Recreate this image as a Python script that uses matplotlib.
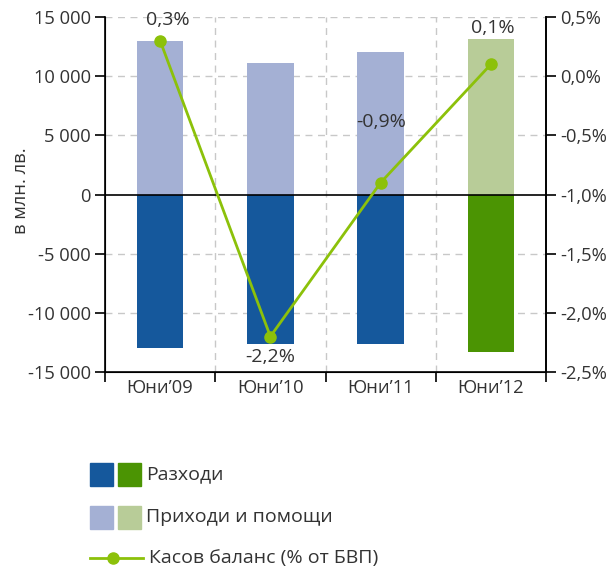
import matplotlib
matplotlib.use("Agg")
import matplotlib.pyplot as plt
from matplotlib.patches import Rectangle
from matplotlib.lines import Line2D
import numpy as np

plt.rcParams['font.family'] = ['Open Sans', 'DejaVu Sans']

categories = ["Юни’09", "Юни’10", "Юни’11", "Юни’12"]
revenues = [12950, 11150, 12000, 13100]        # Приходи и помощи, млн. лв.
expenditures = [-12930, -12600, -12600, -13270]  # Разходи, млн. лв.
balance_pct = [0.3, -2.2, -0.9, 0.1]            # Касов баланс, % от БВП
balance_labels = ["0,3%", "-2,2%", "-0,9%", "0,1%"]
left_ticks = [-15000, -10000, -5000, 0, 5000, 10000, 15000]
right_ticks = [-2.5, -2.0, -1.5, -1.0, -0.5, 0.0, 0.5]

dark_blue = "#15589c"
light_blue = "#a4b0d4"
dark_green = "#4b9403"
light_green = "#b8cc98"
line_green = "#8cc10a"
text_col = "#333333"
grid_col = "#c8c8c8"
fs_tick = 13.2
fs_text = 14

exp_colors = [dark_blue, dark_blue, dark_blue, dark_green]
rev_colors = [light_blue, light_blue, light_blue, light_green]

fig = plt.figure(figsize=(6.15, 5.71), dpi=100)
W, H = 615, 571
ax = fig.add_axes([105 / W, 1 - 372 / H, 441 / W, 355 / H])

x = np.arange(len(categories))
bw = 0.42
ax.bar(x, revenues, width=bw, color=rev_colors, zorder=2)
ax.bar(x, expenditures, width=bw, color=exp_colors, zorder=2)
ax.set_xlim(-0.5, len(categories) - 0.5)
ax.set_ylim(-15000, 15000)
ax.set_yticks(left_ticks)
ax.set_yticklabels([f"{v:,}".replace(",", " ") for v in left_ticks])
ax.axhline(0, color="black", lw=1.2, zorder=3)

# horizontal dashed grid
for v in left_ticks[1:]:
    if v != 0:
        ax.axhline(v, color=grid_col, lw=1, ls=(0, (5, 4)), zorder=1)
# vertical dashed separators between categories
for b in x[:-1] + 0.5:
    ax.axvline(b, color=grid_col, lw=1, ls=(0, (5, 4)), zorder=1)

ax.set_xticks(x)
ax.set_xticklabels(categories)
ax.set_xticks(np.arange(-0.5, len(categories)), minor=True)
ax.tick_params(axis="x", which="major", length=0, pad=5, labelsize=fs_tick, labelcolor=text_col)
ax.tick_params(axis="x", which="minor", length=7, width=1.2, direction="out")
ax.tick_params(axis="y", length=7, width=1.2, direction="out", labelsize=fs_tick,
               labelcolor=text_col, pad=3)
ax.spines["top"].set_visible(False)
for s in ("left", "right", "bottom"):
    ax.spines[s].set_linewidth(1.2)
ax.set_ylabel("в млн. лв.", fontsize=fs_tick, color=text_col)
ax.yaxis.set_label_coords(-0.17, 0.512)

ax2 = ax.twinx()
ax2.set_ylim(-2.5, 0.5)
ax2.set_yticks(right_ticks)
ax2.set_yticklabels([f"{v:.1f}%".replace(".", ",") for v in right_ticks])
ax2.tick_params(axis="y", length=7, width=1.2, direction="out", labelsize=fs_tick,
                labelcolor=text_col, pad=3)
ax2.spines["top"].set_visible(False)
ax2.spines["right"].set_linewidth(1.2)
ax2.plot(x, balance_pct, color=line_green, lw=2, marker="o", ms=8, zorder=4)

# label offsets from each point, in pixels (right, up)
offsets_px = [(8, 21), (0, -20), (1, 61), (2, 36)]
for xi, yi, lab, (dx, dy) in zip(x, balance_pct, balance_labels, offsets_px):
    ax2.annotate(lab, (xi, yi), xytext=(dx * 0.72, dy * 0.72), textcoords="offset points",
                 ha="center", va="center", fontsize=fs_text, color=text_col)

# legend drawn in pixel coordinates
lg = fig.add_axes([0, 0, 1, 1], zorder=-1)
lg.set_xlim(0, W)
lg.set_ylim(H, 0)
lg.axis("off")
sq = 23
rows = [("Разходи", dark_blue, dark_green, 474),
        ("Приходи и помощи", light_blue, light_green, 517)]
for label, c1, c2, yc in rows:
    lg.add_patch(Rectangle((90, yc - sq / 2), sq, sq, color=c1))
    lg.add_patch(Rectangle((118, yc - sq / 2), sq, sq, color=c2))
    lg.text(146, yc, label, va="center", ha="left", fontsize=fs_text, color=text_col)
lg.add_line(Line2D([90, 143], [558, 558], color=line_green, lw=2))
lg.add_line(Line2D([113], [558], color=line_green, marker="o", ms=8))
lg.text(149, 558, "Касов баланс (% от БВП)", va="center", ha="left",
        fontsize=fs_text, color=text_col)

fig.savefig("out.png", dpi=100)
